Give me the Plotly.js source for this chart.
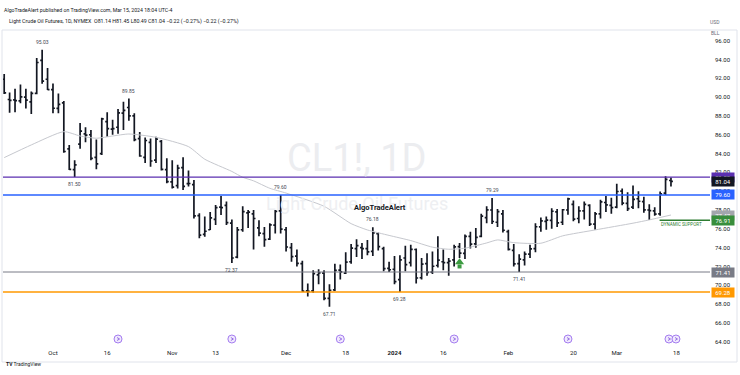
<!DOCTYPE html>
<html>
<head>
<meta charset="utf-8">
<script src="https://cdn.plot.ly/plotly-3.0.1.min.js"></script>
<style>html,body{margin:0;padding:0;background:#fff}#chart{width:740px;height:375px}</style>
</head>
<body>
<div id="chart"></div>
<script>
// ---------- DATA ----------
const holidays = ['2023-11-23','2023-12-25','2024-01-01','2024-01-15','2024-02-19'];
const calStart = '2023-09-19';
const calEnd = '2024-03-29';

const open = [91.9,89.75,89.7,89.6,90.0,89.5,90.4,93.9,91.9,
 90.8,88.8,89.4,84.5,82.3,85.0,86.1,86.0,83.6,84.0,87.4,86.6,86.8,88.3,88.9,88.0,85.6,83.6,85.2,83.3,85.3,82.3,
 81.0,80.6,82.5,80.8,80.7,77.4,75.4,75.9,77.0,78.3,78.5,76.6,73.0,75.9,77.7,77.6,76.1,75.5,74.9,76.4,77.9,
 75.9,74.0,73.1,72.3,69.4,69.4,71.1,71.3,68.6,69.5,71.6,71.3,72.5,73.9,74.0,73.9,73.6,75.5,73.9,71.8,
 71.7,70.6,72.9,72.4,73.8,70.8,72.3,71.4,72.1,72.5,72.4,72.7,74.1,73.4,75.2,74.4,75.2,77.2,78.0,76.7,77.6,
 75.7,73.7,72.3,72.7,73.3,73.9,76.2,76.8,76.9,77.8,76.7,78.0,78.6,77.1,77.9,78.5,76.5,77.6,78.8,78.5,
 78.3,80.0,78.7,78.3,79.2,78.9,78.0,77.9,77.6,79.8,81.14];
const high = [92.45,90.5,90.9,91.35,90.9,90.6,94.17,95.03,93.1,
 91.45,90.4,89.6,84.9,83.3,87.24,86.8,86.5,85.5,87.8,88.4,87.6,88.74,89.5,89.85,88.3,86.3,85.7,85.6,85.8,85.45,83.5,
 83.3,82.8,83.6,82.2,81.2,77.66,77.3,77.8,78.54,79.5,78.9,77.0,76.2,78.4,78.0,78.0,76.9,76.2,76.6,78.0,79.60,
 76.2,74.5,73.8,72.6,70.2,71.6,71.7,71.6,70.1,72.3,72.2,73.5,74.4,74.9,74.5,74.8,76.18,75.6,74.1,72.5,
 73.1,73.2,74.2,74.3,73.9,72.9,73.4,73.6,75.2,73.8,72.9,74.3,74.5,75.4,75.7,76.1,77.6,78.4,79.29,78.1,78.0,
 75.9,74.4,73.3,73.6,74.3,76.6,77.2,77.3,78.2,78.1,78.1,79.3,79.0,78.4,78.9,78.6,77.8,79.1,79.5,79.3,
 80.8,80.3,79.9,80.6,80.0,79.4,78.6,78.3,79.96,81.6,81.45];
const low = [90.33,88.35,88.4,89.35,88.8,88.2,90.3,91.43,90.76,
 88.3,88.3,84.1,82.26,81.50,84.5,85.2,83.3,82.33,83.85,85.8,86.0,86.1,86.5,87.5,85.3,83.67,83.0,82.6,83.0,82.2,80.85,
 80.3,80.3,80.13,80.5,77.1,75.0,75.17,75.88,76.4,77.48,76.41,72.37,72.88,75.7,76.1,73.8,75.2,74.1,74.8,75.5,75.5,
 73.6,72.5,72.0,69.3,68.8,69.2,70.1,68.4,67.71,69.4,70.6,71.2,72.3,73.0,72.8,73.2,73.1,73.7,71.5,71.4,
 70.1,69.28,71.5,72.0,70.2,70.6,71.0,71.2,71.9,71.6,71.0,72.0,72.9,72.8,73.9,74.0,75.1,76.6,76.5,76.2,75.6,
 73.7,72.0,71.41,72.1,72.9,73.5,75.7,75.9,76.0,76.2,76.4,77.5,76.8,76.6,77.0,76.3,75.9,77.1,77.8,77.6,
 78.2,78.5,77.9,78.1,78.2,77.7,76.95,77.4,77.4,79.6,80.49];
const close = [90.45,89.66,89.63,90.03,89.68,90.39,93.68,91.71,90.79,
 88.82,89.23,84.22,82.31,82.79,86.38,85.97,83.49,82.91,87.69,86.66,86.66,88.32,88.6,88.0,85.49,83.74,85.39,83.21,85.54,82.31,81.02,
 80.44,82.46,80.51,80.82,77.37,75.33,75.74,77.17,78.26,78.26,76.66,72.90,75.89,77.83,77.77,77.10,75.54,74.86,76.41,77.86,75.96,
 74.07,73.04,72.32,69.38,69.34,71.23,71.32,68.61,69.47,71.58,71.43,72.47,73.94,74.22,73.89,73.56,75.57,74.11,71.77,71.65,
 70.38,72.70,72.19,73.81,70.77,72.24,71.37,72.02,72.68,72.40,72.56,74.08,73.41,75.19,74.37,75.09,77.36,78.01,76.78,77.82,75.85,
 73.82,72.28,72.78,73.31,73.86,76.22,76.84,76.92,77.87,76.64,78.03,79.19,77.04,77.91,78.61,76.49,77.58,78.87,78.54,78.26,
 79.97,78.74,78.15,79.13,78.93,78.01,77.93,77.56,79.72,81.26,81.04];

const maDates = ['2023-09-19','2023-09-26','2023-10-04','2023-10-09','2023-10-12','2023-10-17','2023-10-20','2023-10-27',
 '2023-11-06','2023-11-09','2023-11-16','2023-11-20','2023-11-22','2023-11-28','2023-12-01','2023-12-12','2023-12-19',
 '2023-12-22','2023-12-29','2024-01-05','2024-01-11','2024-01-17','2024-01-22','2024-01-26','2024-01-30','2024-02-02',
 '2024-02-09','2024-02-15','2024-02-26','2024-03-06','2024-03-11','2024-03-15'];
const maValues = [83.57,84.92,86.33,85.87,85.63,85.87,86.08,85.73,
 84.74,83.40,82.10,81.48,81.10,80.31,79.80,78.40,76.55,
 75.88,75.30,74.75,74.05,73.83,73.94,74.50,74.82,74.53,
 74.47,75.25,75.88,76.60,76.95,77.47];

const pivotDates = ['2023-09-28','2023-10-06','2023-10-20','2023-11-16','2023-11-30','2023-12-13','2023-12-26','2024-01-03','2024-01-29','2024-02-05'];
const pivotPrices = [95.03,81.50,89.85,72.37,79.60,67.71,76.18,69.28,79.29,71.41];
const pivotKind = ['high','low','high','low','high','low','high','low','high','low'];

const levelPrices = [81.50,79.60,71.41,69.28];
const axisLabelPrices = [81.50,81.04,79.60,77.47,76.91,71.41,69.28];
const supportPrice = 76.91;
const supportStart = '2024-03-13';
const signalDates = ['2024-01-19'];
const signalPrices = [72.3];
const eventDates = ['2023-10-18','2023-11-16','2023-12-15','2024-01-18','2024-02-16','2024-03-15'];

const tickDates = ['2023-10-02','2023-10-16','2023-11-01','2023-11-13','2023-12-01','2023-12-18','2024-01-02','2024-01-16','2024-02-01','2024-02-20','2024-03-01','2024-03-18'];
const tickText = ['Oct','16','Nov','13','Dec','18','<b>2024</b>','16','Feb','20','Mar','18'];

// ---------- BUILD ----------
function buildDays(s, e) {
  const out = [];
  const d = new Date(s + 'T00:00:00Z');
  const end = new Date(e + 'T00:00:00Z');
  while (d <= end) {
    const wd = d.getUTCDay();
    const iso = d.toISOString().slice(0, 10);
    if (wd !== 0 && wd !== 6 && holidays.indexOf(iso) < 0) out.push(iso);
    d.setUTCDate(d.getUTCDate() + 1);
  }
  return out;
}
const calendar = buildDays(calStart, calEnd);
const barDates = calendar.slice(0, close.length);
const idx = d => calendar.indexOf(d);

const FONT = 'Roboto, "Open Sans", sans-serif';
const INK = '#131722';

const traces = [
  {type:'scatter', mode:'lines', x:maDates, y:maValues, line:{color:'#c6c8ce', width:1, shape:'spline', smoothing:0.6}, hoverinfo:'skip'},
  {type:'ohlc', x:barDates, open:open, high:high, low:low, close:close, tickwidth:0.36,
   increasing:{line:{color:INK, width:1.7}}, decreasing:{line:{color:INK, width:1.7}}},
  {type:'scatter', mode:'markers', x:signalDates, y:signalPrices.map(p=>p+0.15), marker:{symbol:'triangle-up', size:8, color:'#3c9b41'}, hoverinfo:'skip'},
  {type:'scatter', mode:'markers', x:signalDates, y:signalPrices.map(p=>p-0.3), marker:{symbol:'square', size:4, color:'#3c9b41'}, hoverinfo:'skip'}
];

const levelColors = ['#5b2fb0','#2962ff','#787b86','#ff9800'];
const levelWidths = [1.3,1.6,1.0,1.5];
const shapes = [];
levelPrices.forEach((p,i)=>shapes.push({type:'line', xref:'paper', x0:0, x1:1, yref:'y', y0:p, y1:p, line:{color:levelColors[i], width:levelWidths[i]}}));
shapes.push({type:'line', xref:'x', x0:idx(supportStart)-0.1, x1:130.2, yref:'y', y0:supportPrice, y1:supportPrice, line:{color:'#2e7d32', width:1.5}});
// frame
shapes.push({type:'rect', xref:'paper', yref:'paper', x0:-1/707, x1:734/707, y0:-16/314, y1:316/314, line:{color:'#e0e3eb', width:1}, fillcolor:'rgba(0,0,0,0)'});
// event circles
eventDates.forEach((d,i)=>{
  const offs = (i === eventDates.length-1) ? [[-6,2],[1,9]] : [[-4,4]];
  offs.forEach(o=>shapes.push({type:'circle', xref:'x', yref:'paper', xsizemode:'pixel', ysizemode:'pixel',
    xanchor:idx(d), yanchor:7/314, x0:o[0], x1:o[1], y0:-4, y1:4,
    line:{color:'#a47cf0', width:1}, fillcolor:'#f1eafe'}));
  offs.forEach(o=>shapes.push({type:'path', xref:'x', yref:'paper', xsizemode:'pixel', ysizemode:'pixel',
    xanchor:idx(d), yanchor:7/314,
    path:'M'+(o[0]+3)+',1.5 L'+(o[0]+5.5)+',0 L'+(o[0]+3)+',-1.5', line:{color:'#7e4fd8', width:0.8}}));
});

const labelColors = ['#5b2fb0',INK,'#2962ff','#a3a6ad','#388e3c','#787b86','#ff9800'];
const ann = [];
// watermark
ann.push({xref:'paper', yref:'paper', x:354/707, y:188/314, text:'CL1!, 1D', showarrow:false, font:{family:FONT, size:38, color:'#ecedf0'}});
ann.push({xref:'paper', yref:'paper', x:354/707, y:143/314, text:'Light Crude Oil Futures', showarrow:false, font:{family:FONT, size:18, color:'#eeeff2'}});
ann.push({xref:'paper', yref:'paper', x:377/707, y:139/314, text:'<b>AlgoTradeAlert</b>', showarrow:false, font:{family:FONT, size:7.5, color:INK}});
// header
ann.push({xref:'paper', yref:'paper', x:-1/707, y:341/314, xanchor:'left', text:'AlgoTradeAlert published on TradingView.com, Mar 15, 2024 18:04 UTC-4', showarrow:false, font:{family:FONT, size:5.2, color:INK}});
ann.push({xref:'paper', yref:'paper', x:4/707, y:330/314, xanchor:'left', text:'Light Crude Oil Futures, 1D, NYMEX  O81.14 H81.45 L80.49 C81.04 \u22120.22 (\u22120.27%) \u22120.22 (\u22120.27%)', showarrow:false, font:{family:FONT, size:5.3, color:INK}});
ann.push({xref:'paper', yref:'paper', x:719/707, y:329/314, text:'USD', showarrow:false, font:{family:FONT, size:5, color:'#6a6d78'}});
ann.push({xref:'paper', yref:'paper', x:719/707, y:318/314, text:'BLL', showarrow:false, font:{family:FONT, size:5, color:'#6a6d78'}});
ann.push({xref:'paper', yref:'paper', x:1/707, y:-23/314, xanchor:'left', text:'<b>TV</b> TradingView', showarrow:false, font:{family:FONT, size:5, color:INK}});
// pivots
pivotDates.forEach((d,i)=>ann.push({xref:'x', yref:'y', x:idx(d), y:pivotPrices[i], yshift:pivotKind[i]==='high'?8:-7,
  text:pivotPrices[i].toFixed(2), showarrow:false, font:{family:FONT, size:5, color:'#434651'}}));
// dynamic support label
ann.push({xref:'x', yref:'y', x:idx(supportStart)+4, y:supportPrice, yshift:-4, text:'DYNAMIC SUPPORT', showarrow:false, font:{family:FONT, size:4.5, color:'#2e7d32'}});
// axis price boxes
axisLabelPrices.forEach((p,i)=>ann.push({xref:'paper', yref:'y', x:1, xanchor:'left', xshift:1, y:p, text:p.toFixed(2),
  showarrow:false, bgcolor:labelColors[i], width:21, height:8, borderpad:0.5, font:{family:FONT, size:6, color:'#ffffff'}}));

const layout = {
  width:740, height:375, margin:{l:3, r:30, t:32, b:29, pad:0},
  paper_bgcolor:'#ffffff', plot_bgcolor:'#ffffff', showlegend:false,
  font:{family:FONT, color:INK},
  xaxis:{type:'category', categoryorder:'array', categoryarray:calendar, range:[-0.22, 130.2],
    tickvals:tickDates, ticktext:tickText, tickangle:0, tickfont:{size:6, color:INK}, ticks:'',
    showgrid:false, zeroline:false, showline:false, rangeslider:{visible:false}, ticklabelstandoff:2, fixedrange:true},
  yaxis:{side:'right', range:[63.543, 96.925], dtick:2, tick0:0, tickformat:'.2f', showgrid:false, zeroline:false,
    showline:false, ticks:'', tickfont:{size:6, color:INK}, ticklabelstandoff:4, fixedrange:true},
  shapes:shapes, annotations:ann
};
Plotly.newPlot('chart', traces, layout, {displayModeBar:false, staticPlot:true});
</script>
</body>
</html>
